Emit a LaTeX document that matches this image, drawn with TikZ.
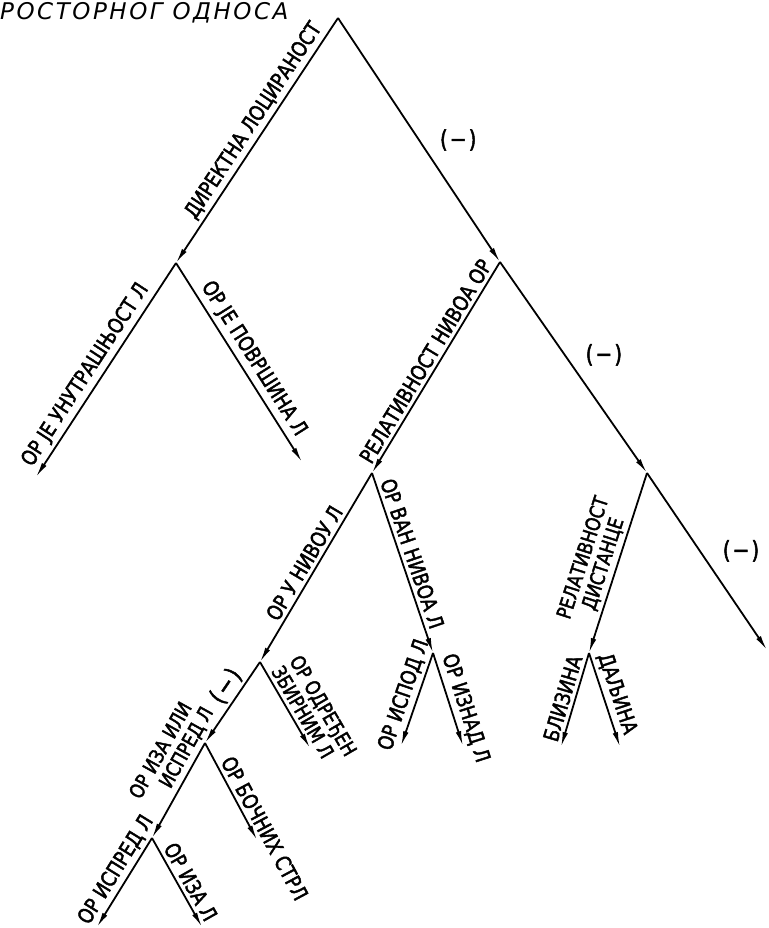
\documentclass[tikz,border=0pt]{standalone}
\usepackage{fontspec}
\setmainfont{DejaVu Sans}[FakeStretch=0.84, FakeBold=2]
\newfontfamily\ttlfont{DejaVu Sans}[LetterSpace=11]
\usetikzlibrary{arrows.meta}

\begin{document}
\begin{tikzpicture}[
  x=1pt, y=-1pt,
  every node/.style={font=\fontsize{21}{21}\selectfont},
  arr/.style={-{Latex[length=15pt,width=5.5pt]}, line width=1.8pt},
  lbl/.style={sloped, above, inner sep=3.5pt},
  two/.style={align=left, font=\fontsize{20}{21}\selectfont},
  neg/.style={inner sep=0pt, font=\fontsize{24}{24}\selectfont},
  ttl/.style={inner sep=0pt, anchor=base west, font=\ttlfont\fontsize{23}{26}\selectfont\itshape}
]
\useasboundingbox (0,0) rectangle (768,928);
\node[ttl] (title) at (0,20) {РОСТОРНОГ ОДНОСА};

\coordinate (root) at (338,18);
\coordinate (dirloc) at (176,263);
\coordinate (unutra) at (36,477);
\coordinate (povrs) at (302,462);
\coordinate (neg1) at (500,262);
\coordinate (neg2) at (647,473);
\coordinate (negend) at (767,650);
\coordinate (relniv) at (372,473);
\coordinate (univ) at (260,662);
\coordinate (vanniv) at (433,653);
\coordinate (zbir) at (310,748);
\coordinate (ispod) at (401,746);
\coordinate (iznad) at (463,746);
\coordinate (izaisp) at (205,743);
\coordinate (bocni) at (257,840);
\coordinate (isprizа) at (152,838);
\coordinate (ispred) at (97,927);
\coordinate (iza) at (202,927);
\coordinate (reldist) at (589,653);
\coordinate (blizina) at (561,747);
\coordinate (daljina) at (620,747);

\draw[arr] (root) -- (dirloc) node[lbl, pos=0.45] {ДИРЕКТНА ЛОЦИРАНОСТ};
\draw[arr] (dirloc) -- (unutra) node[lbl, pos=0.56] {ОР ЈЕ УНУТРАШЊОСТ Л};
\draw[arr] (dirloc) -- (povrs) node[lbl, pos=0.52] {ОР ЈЕ ПОВРШИНА Л};
\draw[arr] (root) -- (neg1) node[neg, pos=0.5, right=20pt] {(\kern2pt−\kern2pt)};
\draw[arr] (neg1) -- (neg2) node[neg, pos=0.44, right=20pt] {(\kern2pt−\kern2pt)};
\draw[arr] (neg2) -- (negend) node[neg, pos=0.44, right=22pt] {(\kern2pt−\kern2pt)};
\draw[arr] (neg1) -- (relniv) node[lbl, pos=0.5] {РЕЛАТИВНОСТ НИВОА ОР};
\draw[arr] (relniv) -- (univ) node[lbl, pos=0.51] {ОР У НИВОУ Л};
\draw[arr] (relniv) -- (vanniv) node[lbl, pos=0.47] {ОР ВАН НИВОА Л};
\draw[arr] (univ) -- (zbir) node[lbl, two, pos=0.7] {ОР ОДРЕЂЕН\\ЗБИРНИМ Л};
\draw[arr] (vanniv) -- (ispod) node[lbl, pos=0.5] {ОР ИСПОД Л};
\draw[arr] (vanniv) -- (iznad) node[lbl, pos=0.64] {ОР ИЗНАД Л};
\draw[arr] (univ) -- (izaisp) node[lbl, neg, pos=0.4, above=3pt] {(\kern2pt−\kern2pt)};
\draw[arr] (izaisp) -- (isprizа) node[lbl, two, pos=0.23] {ОР ИЗА ИЛИ\\\hspace{1.2em}ИСПРЕД Л};
\draw[arr] (izaisp) -- (bocni) node[lbl, pos=0.94] {ОР БОЧНИХ СТРЛ};
\draw[arr] (isprizа) -- (ispred) node[lbl, pos=0.44] {ОР ИСПРЕД Л};
\draw[arr] (isprizа) -- (iza) node[lbl, pos=0.56] {ОР ИЗА Л};
\draw[arr] (neg2) -- (reldist) node[lbl, two, pos=0.53] {РЕЛАТИВНОСТ\\\hspace{0.8em}ДИСТАНЦЕ};
\draw[arr] (reldist) -- (blizina) node[lbl, pos=0.52] {БЛИЗИНА};
\draw[arr] (reldist) -- (daljina) node[lbl, pos=0.48] {ДАЉИНА};
\end{tikzpicture}
\end{document}
